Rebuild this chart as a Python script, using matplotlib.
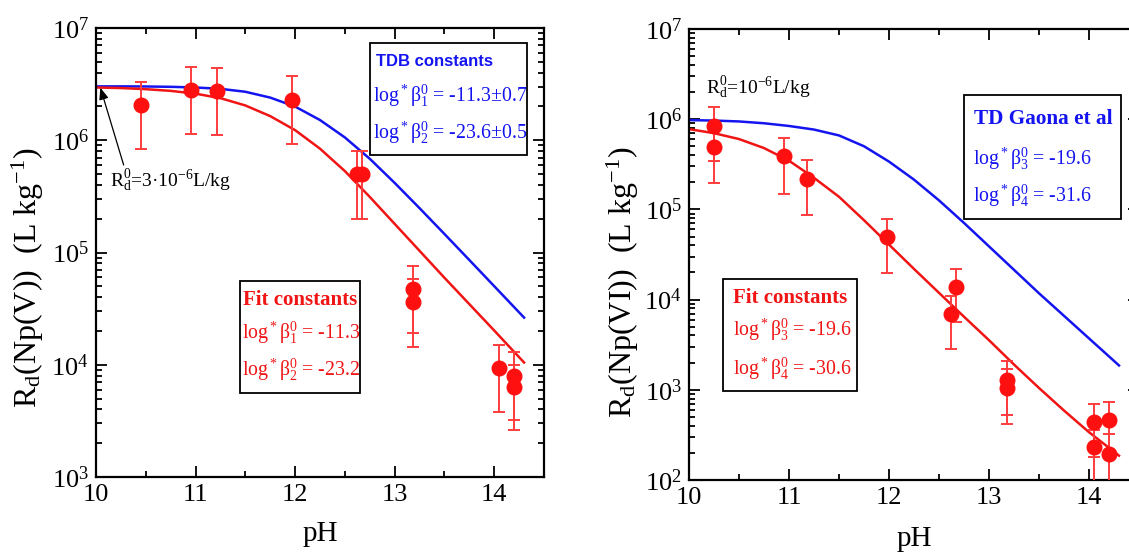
import matplotlib
matplotlib.use("Agg")
import matplotlib.pyplot as plt
import numpy as np
from matplotlib.patches import Rectangle
from matplotlib.ticker import LogLocator, MultipleLocator, NullFormatter, FuncFormatter

plt.rcParams['font.family'] = ['Liberation Serif', 'DejaVu Serif']
plt.rcParams['mathtext.fontset'] = 'custom'
plt.rcParams['mathtext.rm'] = 'Liberation Serif'
plt.rcParams['mathtext.it'] = 'Liberation Serif:italic'
plt.rcParams['mathtext.bf'] = 'Liberation Serif:bold'

# ---------------- Np(V) ----------------
npv_ph = [10.45, 10.95, 11.22, 11.97, 12.62, 12.67, 13.18, 13.18, 14.05, 14.20, 14.20]
npv_rd = [2.07e6, 2.8e6, 2.77e6, 2.3e6, 5.0e5, 5.0e5, 4.7e4, 3.6e4, 9.4e3, 8.0e3, 6.3e3]
npv_hi = [3.3e6, 4.5e6, 4.4e6, 3.7e6, 8.0e5, 8.0e5, 7.6e4, 5.8e4, 1.5e4, 1.3e4, 1.0e4]
npv_lo = [8.3e5, 1.13e6, 1.12e6, 9.2e5, 2.0e5, 2.0e5, 1.9e4, 1.45e4, 3.8e3, 3.2e3, 2.6e3]

# model curves, log10(Rd) versus pH
curve_ph = [10.0, 10.25, 10.5, 10.75, 11.0, 11.25, 11.5, 11.75, 12.0, 12.25, 12.5,
            12.75, 13.0, 13.25, 13.5, 13.75, 14.0, 14.15, 14.3]
npv_fit_log = [6.47, 6.465, 6.455, 6.44, 6.415, 6.375, 6.31, 6.215, 6.09, 5.925, 5.725,
               5.495, 5.255, 5.015, 4.775, 4.54, 4.305, 4.162, 4.02]
npv_tdb_log = [6.48, 6.48, 6.479, 6.476, 6.47, 6.458, 6.432, 6.38, 6.30, 6.18, 6.025,
               5.835, 5.62, 5.395, 5.165, 4.933, 4.70, 4.56, 4.42]

# ---------------- Np(VI) ----------------
npvi_ph = [10.25, 10.25, 10.95, 11.18, 11.98, 12.62, 12.67, 13.18, 13.18, 14.05, 14.05, 14.20, 14.20]
npvi_rd = [8.5e5, 4.9e5, 3.9e5, 2.2e5, 4.9e4, 7.0e3, 1.38e4, 1.3e3, 1.05e3, 4.4e2, 2.3e2, 4.6e2, 1.95e2]
npvi_hi = [1.37e6, 8.0e5, 6.2e5, 3.5e5, 7.8e4, 1.1e4, 2.2e4, 2.1e3, 1.7e3, 6.9e2, 3.6e2, 7.4e2, 3.2e2]
npvi_lo = [3.4e5, 1.95e5, 1.5e5, 8.7e4, 1.95e4, 2.8e3, 5.6e3, 5.2e2, 4.2e2, 1.8e2, 90, 1.9e2, 90]

npvi_fit_log = [5.89, 5.845, 5.78, 5.68, 5.54, 5.35, 5.14, 4.88, 4.61, 4.34, 4.075,
                3.81, 3.55, 3.28, 3.02, 2.77, 2.53, 2.40, 2.27]
npvi_tdb_log = [5.99, 5.985, 5.975, 5.955, 5.925, 5.885, 5.82, 5.70, 5.53, 5.33, 5.10,
                4.85, 4.59, 4.33, 4.07, 3.82, 3.57, 3.42, 3.27]

W, H = 1129, 554
fig = plt.figure(figsize=(W / 100, H / 100), dpi=100)

BLUE = '#1414f0'
RED = '#f01414'


def fx(px):
    return px / W


def fy(py):
    return 1 - py / H


def make_axes(x0, y0, x1, y1):
    return fig.add_axes([fx(x0), fy(y1), fx(x1) - fx(x0), fy(y0) - fy(y1)])


def sci_label(v, pos):
    e = int(round(np.log10(v)))
    return r"10$^{%d}$" % e


def style_axes(ax, ymin, ymax):
    ax.set_yscale('log')
    ax.set_xlim(10, 14.5)
    ax.set_ylim(ymin, ymax)
    ax.xaxis.set_major_locator(MultipleLocator(1))
    ax.xaxis.set_minor_locator(MultipleLocator(0.5))
    ax.yaxis.set_major_locator(LogLocator(base=10, numticks=10))
    ax.yaxis.set_minor_locator(LogLocator(base=10, subs=np.arange(2, 10), numticks=20))
    ax.yaxis.set_minor_formatter(NullFormatter())
    ax.yaxis.set_major_formatter(FuncFormatter(sci_label))
    ax.tick_params(which='both', direction='in', top=True, right=True, width=1.3, colors='black')
    ax.tick_params(which='major', length=8, labelsize=19, pad=5)
    ax.tick_params(which='minor', length=4)
    for s in ax.spines.values():
        s.set_linewidth(1.6)


def draw_curve(ax, ph, logs, color):
    ax.plot(ph, 10 ** np.array(logs), color=color, lw=1.8, zorder=2)


def draw_points(ax, ph, rd, hi, lo):
    rd = np.array(rd)
    yerr = np.vstack([rd - np.array(lo), np.array(hi) - rd])
    ax.errorbar(ph, rd, yerr=yerr, fmt='o', color='#ff1010', ecolor='#ff3c3c',
                markersize=10.5, capsize=4.5, elinewidth=1.4, capthick=1.4, zorder=3)


def box(x0, y0, x1, y1):
    fig.add_artist(Rectangle((fx(x0), fy(y1)), fx(x1) - fx(x0), fy(y0) - fy(y1),
                             transform=fig.transFigure, fill=False, edgecolor='black',
                             linewidth=1.3, zorder=5))


def line(x, y, s, color, size=14.3, **kw):
    fig.text(fx(x), fy(y), s, color=color, fontsize=size, va='center', ha='left', **kw)


# ---- left panel ----
ax1 = make_axes(96, 28, 544, 477)
style_axes(ax1, 1e3, 1e7)
draw_curve(ax1, curve_ph, npv_tdb_log, BLUE)
draw_curve(ax1, curve_ph, npv_fit_log, RED)
draw_points(ax1, npv_ph, npv_rd, npv_hi, npv_lo)
ax1.set_xlabel('pH', fontsize=21, labelpad=11)
ax1.set_ylabel(r"R$_\mathrm{d}$(Np(V))  (L kg$^{-1}$)", fontsize=23)
ax1.yaxis.set_label_coords(-0.112, 0.445)
ax1.annotate(r"R$_\mathrm{d}^0$=3·10$^{-6}$L/kg", xy=(10.04, 10 ** npv_tdb_log[0]), xycoords='data',
             xytext=(fx(110), fy(181)), textcoords='figure fraction',
             fontsize=14, va='center', ha='left',
             arrowprops=dict(arrowstyle='-|>,head_length=0.5,head_width=0.2', color='black', lw=0.9,
                             shrinkA=0, shrinkB=1, relpos=(0.12, 1.0)))

box(370, 43, 527, 155)
line(376, 62, "TDB constants", BLUE, size=12, family='Liberation Sans', weight='bold')
line(373, 96, r"log$^*$β$_1^0$ = -11.3±0.7", BLUE)
line(373, 133, r"log$^*$β$_2^0$ = -23.6±0.5", BLUE)

box(240, 281, 360, 393)
line(243, 300, "Fit constants", RED, size=15, weight='bold')
line(242, 333, r"log$^*$β$_1^0$ = -11.3", RED)
line(242, 370, r"log$^*$β$_2^0$ = -23.2", RED)

# ---- right panel ----
ax2 = make_axes(689, 29, 1139, 480)
style_axes(ax2, 1e2, 1e7)
draw_curve(ax2, curve_ph, npvi_tdb_log, BLUE)
draw_curve(ax2, curve_ph, npvi_fit_log, RED)
draw_points(ax2, npvi_ph, npvi_rd, npvi_hi, npvi_lo)
ax2.set_xlabel('pH', fontsize=21, labelpad=12)
ax2.set_ylabel(r"R$_\mathrm{d}$(Np(VI))  (L kg$^{-1}$)", fontsize=23)
ax2.yaxis.set_label_coords(-0.107, 0.439)
line(706, 88, r"R$_\mathrm{d}^0$=10$^{-6}$L/kg", 'black', size=14)

box(964, 95, 1121, 219)
line(974, 119, "TD Gaona et al", BLUE, size=15.3, weight='bold')
line(973, 159, r"log$^*$β$_3^0$ = -19.6", BLUE)
line(973, 196, r"log$^*$β$_4^0$ = -31.6", BLUE)

box(723, 279, 857, 391)
line(733, 298, "Fit constants", RED, size=15, weight='bold')
line(733, 330, r"log$^*$β$_3^0$ = -19.6", RED)
line(733, 369, r"log$^*$β$_4^0$ = -30.6", RED)

fig.savefig('out.png', dpi=100)
